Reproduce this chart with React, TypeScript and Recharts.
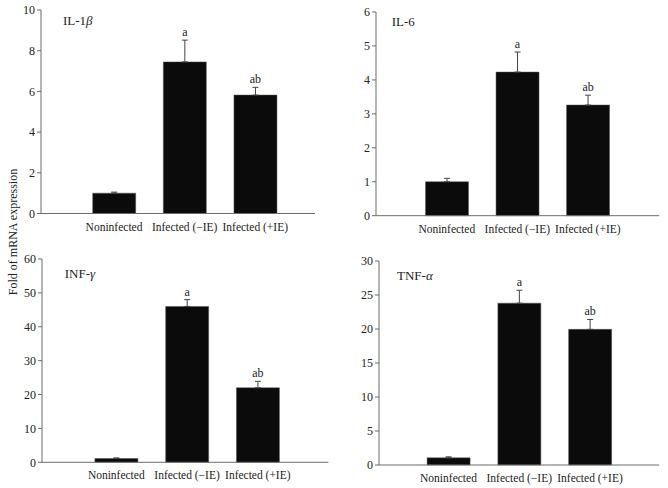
import React from "react";
import { Bar, BarChart, ErrorBar, LabelList, XAxis, YAxis } from "recharts";

const categories = ["Noninfected", "Infected (\u2212IE)", "Infected (+IE)"];
const letters = ["", "a", "ab"];

const il1bValues = [1.0, 7.45, 5.82];
const il1bErrors = [0.05, 1.07, 0.38];
const il1bTicks = [0, 2, 4, 6, 8, 10];

const il6Values = [1.0, 4.23, 3.26];
const il6Errors = [0.1, 0.59, 0.29];
const il6Ticks = [0, 1, 2, 3, 4, 5, 6];

const infgValues = [1.1, 46.0, 22.0];
const infgErrors = [0.2, 2.0, 1.9];
const infgTicks = [0, 10, 20, 30, 40, 50, 60];

const tnfaValues = [1.05, 23.8, 19.95];
const tnfaErrors = [0.15, 1.9, 1.45];
const tnfaTicks = [0, 5, 10, 15, 20, 25, 30];

const font = "'Liberation Serif', 'DejaVu Serif', serif";
const axisColor = "#6b6b6b";

type PanelProps = {
  values: number[];
  errors: number[];
  ticks: number[];
  title: React.ReactNode;
  axisX: number;
  top: number;
  bottom: number;
  right: number;
  padLeft: number;
  padRight: number;
  titleDx: number;
  titleDy: number;
};

function Panel(p: PanelProps) {
  const data = categories.map((name, i) => ({
    name,
    value: p.values[i],
    err: [0, p.errors[i]],
    letter: letters[i],
  }));
  const left = p.axisX - 40;
  const topEdge = p.top - 10;
  const width = p.right - left + 10;
  const height = p.bottom - p.top + 45;

  const renderLetter = (props: any) => {
    const { x, y, width: w, height: h, index } = props;
    if (!letters[index]) return null;
    const errTop = y - (h * p.errors[index]) / p.values[index];
    return (
      <text
        x={x + w / 2}
        y={errTop - 4}
        textAnchor="middle"
        fontSize={12}
        fontFamily={font}
        fill="#222"
      >
        {letters[index]}
      </text>
    );
  };

  return (
    <>
      <div style={{ position: "absolute", left, top: topEdge }}>
        <BarChart
          width={width}
          height={height}
          data={data}
          margin={{ top: 10, right: 10, left: 0, bottom: 10 }}
        >
          <XAxis
            dataKey="name"
            height={25}
            tickLine={false}
            axisLine={{ stroke: axisColor }}
            tickMargin={3}
            interval={0}
            padding={{ left: p.padLeft, right: p.padRight }}
            tick={{ fontSize: 11.5, fill: "#222", fontFamily: font }}
          />
          <YAxis
            width={40}
            domain={[0, p.ticks[p.ticks.length - 1]]}
            ticks={p.ticks}
            interval={0}
            tickSize={4}
            tickMargin={2}
            axisLine={{ stroke: axisColor }}
            tickLine={{ stroke: axisColor }}
            tick={{ fontSize: 12, fill: "#222", fontFamily: font }}
          />
          <Bar
            dataKey="value"
            fill="#0b0b0b"
            stroke="#555"
            strokeWidth={0.5}
            barSize={43}
            isAnimationActive={false}
          >
            <ErrorBar
              dataKey="err"
              direction="y"
              width={3}
              stroke="#444"
              strokeWidth={1}
              isAnimationActive={false}
            />
            <LabelList dataKey="letter" content={renderLetter} />
          </Bar>
        </BarChart>
      </div>
      <div
        style={{
          position: "absolute",
          left: p.axisX + p.titleDx,
          top: p.top + p.titleDy,
          fontFamily: font,
          fontSize: 13,
          color: "#222",
          lineHeight: "14px",
          whiteSpace: "nowrap",
        }}
      >
        {p.title}
      </div>
    </>
  );
}

export default function App() {
  return (
    <div
      style={{
        position: "absolute",
        left: 0,
        top: 0,
        width: 668,
        height: 488,
        background: "#fff",
        overflow: "hidden",
      }}
    >
      <Panel
        values={il1bValues}
        errors={il1bErrors}
        ticks={il1bTicks}
        title={<>IL-1<i>β</i></>}
        axisX={41}
        top={9.5}
        bottom={213}
        right={315}
        padLeft={37.7}
        padRight={24.4}
        titleDx={22}
        titleDy={4}
      />
      <Panel
        values={il6Values}
        errors={il6Errors}
        ticks={il6Ticks}
        title="IL-6"
        axisX={375.7}
        top={12.3}
        bottom={216}
        right={659}
        padLeft={35.5}
        padRight={36.2}
        titleDx={16}
        titleDy={3}
      />
      <Panel
        values={infgValues}
        errors={infgErrors}
        ticks={infgTicks}
        title={<>INF-<i>γ</i></>}
        axisX={41.7}
        top={259}
        bottom={462.3}
        right={328}
        padLeft={38.9}
        padRight={35.1}
        titleDx={23}
        titleDy={8}
      />
      <Panel
        values={tnfaValues}
        errors={tnfaErrors}
        ticks={tnfaTicks}
        title={<>TNF-<i>α</i></>}
        axisX={379}
        top={260.7}
        bottom={464.7}
        right={659}
        padLeft={34.1}
        padRight={33.6}
        titleDx={18}
        titleDy={8}
      />
      <div
        style={{
          position: "absolute",
          left: 13,
          top: 232,
          transform: "translate(-50%, -50%) rotate(-90deg)",
          fontFamily: font,
          fontSize: 12,
          color: "#222",
          whiteSpace: "nowrap",
        }}
      >
        Fold of mRNA expression
      </div>
    </div>
  );
}
